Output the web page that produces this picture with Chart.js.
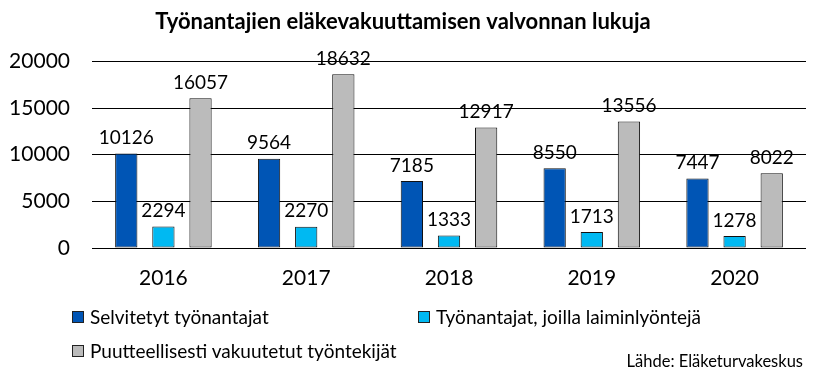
<!DOCTYPE html>
<html>
<head>
<meta charset="utf-8">
<script src="https://cdn.jsdelivr.net/npm/chart.js@4/dist/chart.umd.min.js"></script>
<style>
  body { margin: 0; background: #fff; }
  #wrap { position: relative; width: 821px; height: 388px; font-family: Lato, sans-serif; }
  #legend { position: absolute; left: 72px; top: 305px; width: 740px; font-size: 19px; color: #000; }
  .item { position: absolute; white-space: nowrap; }
  .box { display: inline-block; width: 10px; height: 10px; border: 1px solid #222; margin-right: 6px; vertical-align: 1px; }
  #source { position: absolute; right: 18px; top: 351px; font-size: 16.5px; color: #000; }
</style>
</head>
<body>
<div id="wrap">
  <canvas id="chart" width="821" height="388"></canvas>
  <div id="legend"></div>
  <div id="source">Lähde: Eläketurvakeskus</div>
</div>
<script>
const years = ['2016', '2017', '2018', '2019', '2020'];
const selvitetyt = [10126, 9564, 7185, 8550, 7447];
const laiminlyonteja = [2294, 2270, 1333, 1713, 1278];
const puutteellisesti = [16057, 18632, 12917, 13556, 8022];
const yTicks = [0, 5000, 10000, 15000, 20000];

const seriesNames = ['Selvitetyt työnantajat', 'Työnantajat, joilla laiminlyöntejä', 'Puutteellisesti vakuutetut työntekijät'];
const seriesColors = ['#0055B5', '#00B9F2', '#BBBBBB'];

const valueLabels = {
    id: 'valueLabels',
    afterDatasetsDraw(chart) {
        const ctx = chart.ctx;
        ctx.save();
        ctx.font = '19px Lato';
        ctx.fillStyle = '#000';
        ctx.textAlign = 'center';
        ctx.textBaseline = 'bottom';
        chart.data.datasets.forEach((ds, i) => {
            chart.getDatasetMeta(i).data.forEach((bar, j) => {
                ctx.fillText(ds.data[j], bar.x, bar.y - 6);
            });
        });
        ctx.restore();
    }
};

const ctx = document.getElementById('chart').getContext('2d');
const chart = new Chart(ctx, {
    type: 'bar',
    data: {
        labels: years,
        datasets: [selvitetyt, laiminlyonteja, puutteellisesti].map((d, i) => ({
            label: seriesNames[i],
            data: d,
            backgroundColor: seriesColors[i],
            borderColor: '#111',
            borderWidth: 1,
            borderSkipped: false,
            barPercentage: 0.6,
            categoryPercentage: 0.78
        }))
    },
    options: {
        responsive: false,
        animation: false,
        layout: { padding: { left: 0, right: 15, top: 0, bottom: 100 } },
        plugins: {
            legend: { display: false },
            tooltip: { enabled: false },
            title: {
                display: true,
                text: 'Työnantajien eläkevakuuttamisen valvonnan lukuja',
                color: '#000',
                font: { family: 'Lato', size: 22, weight: 'bold' },
                padding: { top: 9, bottom: 26 }
            }
        },
        scales: {
            x: {
                grid: { display: false, drawTicks: false },
                border: { display: false },
                ticks: { color: '#000', font: { family: 'Lato', size: 21 }, padding: 18 },
                afterFit: s => { s.height = 40; }
            },
            y: {
                min: 0,
                max: 20000,
                afterBuildTicks: s => { s.ticks = yTicks.map(v => ({ value: v })); },
                grid: { color: '#000', lineWidth: 1, drawTicks: false },
                border: { display: false },
                ticks: {
                    color: '#000',
                    font: { family: 'Lato', size: 21 },
                    padding: 22,
                    callback: v => String(v)
                },
                afterFit: s => { s.width = 92; }
            }
        }
    },
    plugins: [valueLabels]
});

// legend built from the chart's datasets
const legendPos = [[0, 0], [346, 0], [0, 34]];
const legend = document.getElementById('legend');
chart.data.datasets.forEach((ds, i) => {
    const item = document.createElement('div');
    item.className = 'item';
    item.style.left = legendPos[i][0] + 'px';
    item.style.top = legendPos[i][1] + 'px';
    item.innerHTML = '<span class="box" style="background:' + ds.backgroundColor + '"></span>' + ds.label;
    legend.appendChild(item);
});
</script>
</body>
</html>
